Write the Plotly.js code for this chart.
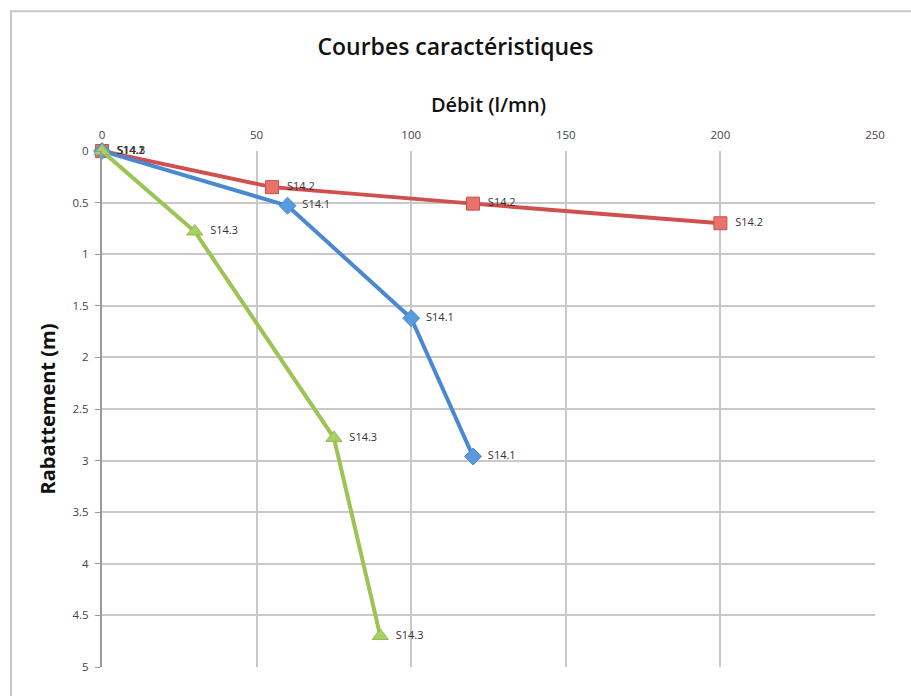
<!DOCTYPE html>
<html><head><meta charset="utf-8">
<script src="https://cdn.plot.ly/plotly-3.0.1.min.js"></script>
<style>html,body{margin:0;padding:0;background:#fff;}#chart{width:911px;height:696px;}</style>
</head><body><div id="chart"></div>
<script>
const s141Debit = [0, 60, 100, 120];
const s141Rabat = [0, 0.53, 1.62, 2.96];
const s142Debit = [0, 55, 120, 200];
const s142Rabat = [0, 0.35, 0.51, 0.70];
const s143Debit = [0, 30, 75, 90];
const s143Rabat = [0, 0.78, 2.78, 4.70];
const xTicks = [0, 50, 100, 150, 200, 250];
const yTicks = [0, 0.5, 1, 1.5, 2, 2.5, 3, 3.5, 4, 4.5, 5];

function lab(name, arr){ return arr.map(()=>'\u00a0\u00a0' + name); }
const tf = {family:'"Open Sans", Lato, sans-serif', size:11, color:'#333'};

const traces = [
 {x:s142Debit, y:s142Rabat, name:'S14.2', mode:'lines+markers+text', text:lab('S14.2',s142Debit),
  textposition:'middle right', textfont:tf, cliponaxis:false,
  line:{color:'#d0504d', width:4}, marker:{symbol:'square', size:13, color:'#ea726c', line:{color:'#c9514d', width:1}}},
 {x:s141Debit, y:s141Rabat, name:'S14.1', mode:'lines+markers+text', text:lab('S14.1',s141Debit),
  textposition:'middle right', textfont:tf, cliponaxis:false,
  line:{color:'#4a89d2', width:4}, marker:{symbol:'diamond', size:13, color:'#5a9be0', line:{color:'#4a89d2', width:1}}},
 {x:s143Debit, y:s143Rabat, name:'S14.3', mode:'lines+markers+text', text:lab('S14.3',s143Debit),
  textposition:'middle right', textfont:tf, cliponaxis:false,
  line:{color:'#9bc454', width:4}, marker:{symbol:'triangle-up', size:14, color:'#a8d062', line:{color:'#93b94e', width:1}}}
];

const layout = {
 width:911, height:696,
 margin:{l:102, r:36, t:151, b:29},
 paper_bgcolor:'#fff', plot_bgcolor:'#fff',
 showlegend:false,
 font:{family:'"Open Sans", Lato, sans-serif', color:'#333'},
 title:{text:'Courbes caractéristiques', x:0.5, xanchor:'center', y:0.932, yanchor:'middle',
   font:{family:'"Open Sans", sans-serif', size:23, color:'#111', weight:600}},
 xaxis:{side:'top', range:[0,250], tickvals:xTicks, ticktext:xTicks.map(String),
   showgrid:true, gridcolor:'#c9c9c9', gridwidth:2, zeroline:false, showline:false,
   ticks:'', tickfont:{size:11.5, color:'#444'}, ticklabelstandoff:9,
   title:{text:'Débit (l/mn)', standoff:8, font:{size:20, color:'#111', weight:600}}},
 yaxis:{range:[5,0], tickvals:yTicks, ticktext:yTicks.map(String),
   showgrid:true, gridcolor:'#c9c9c9', gridwidth:2, zeroline:false,
   showline:true, linecolor:'#9a9a9a', linewidth:2,
   ticks:'outside', ticklen:5, tickcolor:'#9a9a9a', tickwidth:1,
   tickfont:{size:11.5, color:'#444'}, ticklabelstandoff:4,
   title:{text:'Rabattement (m)', standoff:12, font:{size:20, color:'#111', weight:700}}},
 shapes:[{type:'rect', xref:'paper', yref:'paper', x0:-0.1177, x1:1.06, y0:-0.2, y1:1.271,
   line:{color:'#c8c8c8', width:2}, fillcolor:'rgba(0,0,0,0)', layer:'below'}]
};
Plotly.newPlot('chart', traces, layout, {displayModeBar:false, staticPlot:true});
</script></body></html>
